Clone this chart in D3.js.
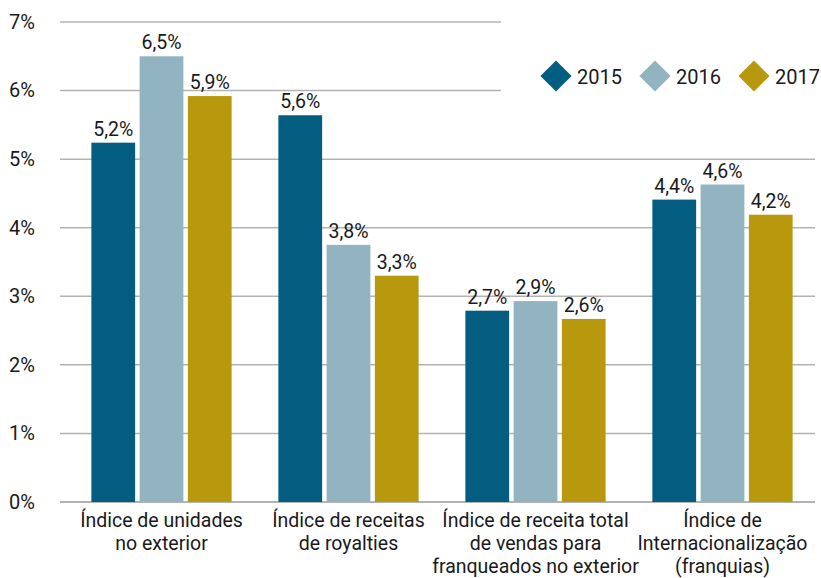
<!DOCTYPE html>
<html>
<head>
<meta charset="utf-8">
<script src="https://cdn.jsdelivr.net/npm/d3@7"></script>
<style>
  body { margin: 0; background: #fff; }
  svg text { font-family: Roboto, "Open Sans", sans-serif; fill: #1a1a1a; }
</style>
</head>
<body>
<div id="app"></div>
<script>
const categories = [
  ["Índice de unidades", "no exterior"],
  ["Índice de receitas", "de royalties"],
  ["Índice de receita total", "de vendas para", "franqueados no exterior"],
  ["Índice de", "Internacionalização", "(franquias)"]
];
const years = ["2015", "2016", "2017"];
const colors = ["#025d80", "#92b4c1", "#b8990e"];

// bar heights (%), labels as printed
const values2015 = [5.24, 5.64, 2.79, 4.41];
const values2016 = [6.50, 3.75, 2.93, 4.63];
const values2017 = [5.92, 3.30, 2.67, 4.19];
const labels2015 = ["5,2%", "5,6%", "2,7%", "4,4%"];
const labels2016 = ["6,5%", "3,8%", "2,9%", "4,6%"];
const labels2017 = ["5,9%", "3,3%", "2,6%", "4,2%"];
const yTicks = [0, 1, 2, 3, 4, 5, 6, 7];

const series = [
  { year: years[0], values: values2015, labels: labels2015 },
  { year: years[1], values: values2016, labels: labels2016 },
  { year: years[2], values: values2017, labels: labels2017 }
];

const w = 821;
const h = 578;

const svg = d3.select("#app").append("svg")
  .attr("width", w)
  .attr("height", h);

const y = d3.scaleLinear().domain([0, 7]).range([502, 22]);

const x0 = d3.scaleBand()
  .domain(d3.range(categories.length))
  .range([68, 816])
  .paddingInner(0.25)
  .paddingOuter(0.125);

const x1 = d3.scaleBand()
  .domain(years)
  .range([0, x0.bandwidth()])
  .paddingInner(0.093);

//gridlines
svg.append("g")
  .selectAll("line")
  .data(yTicks)
  .enter()
  .append("line")
  .attr("x1", 60)
  .attr("x2", 815)
  .attr("y1", (d) => y(d))
  .attr("y2", (d) => y(d))
  .attr("stroke", "#b3b3b3")
  .attr("stroke-width", (d) => (d === 0 ? 2 : 1.5));

//y axis labels
const yAxis = d3.axisLeft(y)
  .tickValues(yTicks)
  .tickSize(0)
  .tickPadding(0)
  .tickFormat((d) => d + "%");

svg.append("g")
  .attr("transform", "translate(35,0)")
  .call(yAxis)
  .call((g) => g.select(".domain").remove())
  .selectAll("text")
  .attr("font-size", 20)
  .attr("font-family", "Roboto")
  .attr("fill", "#1a1a1a");

//legend box (covers the top gridlines)
svg.append("rect")
  .attr("x", 501)
  .attr("y", 0)
  .attr("width", w - 501)
  .attr("height", 125)
  .attr("fill", "#fff");

//bars
const groups = svg.selectAll(".series")
  .data(series)
  .enter()
  .append("g")
  .attr("class", "series")
  .attr("fill", (d, i) => colors[i]);

groups.selectAll("rect")
  .data((s) => s.values.map((v, i) => ({ year: s.year, v, i })))
  .enter()
  .append("rect")
  .attr("x", (d) => x0(d.i) + x1(d.year))
  .attr("y", (d) => y(d.v))
  .attr("width", x1.bandwidth())
  .attr("height", (d) => y(0) - y(d.v));

//bar value labels
groups.selectAll("text")
  .data((s) => s.values.map((v, i) => ({ year: s.year, v, i, label: s.labels[i] })))
  .enter()
  .append("text")
  .attr("x", (d) => x0(d.i) + x1(d.year) + x1.bandwidth() / 2)
  .attr("y", (d) => y(d.v) - 7)
  .attr("text-anchor", "middle")
  .attr("font-size", 19.5)
  .text((d) => d.label);

//category labels
svg.append("g")
  .selectAll("text")
  .data(categories)
  .enter()
  .append("text")
  .attr("text-anchor", "middle")
  .attr("font-size", 19.5)
  .attr("x", (d, i) => x0(i) + x0.bandwidth() / 2)
  .attr("y", 527)
  .selectAll("tspan")
  .data((d) => d)
  .enter()
  .append("tspan")
  .attr("x", function () { return d3.select(this.parentNode).attr("x"); })
  .attr("dy", (d, i) => (i === 0 ? 0 : 23))
  .text((d) => d);

//legend
const legend = svg.append("g")
  .selectAll("g")
  .data(years)
  .enter()
  .append("g")
  .attr("transform", (d, i) => `translate(${556 + i * 99},76)`);

legend.append("rect")
  .attr("x", -11)
  .attr("y", -11)
  .attr("width", 22)
  .attr("height", 22)
  .attr("transform", "rotate(45)")
  .attr("fill", (d, i) => colors[i]);

legend.append("text")
  .attr("x", 21)
  .attr("y", 8)
  .attr("font-size", 20)
  .text((d) => d);
</script>
</body>
</html>
